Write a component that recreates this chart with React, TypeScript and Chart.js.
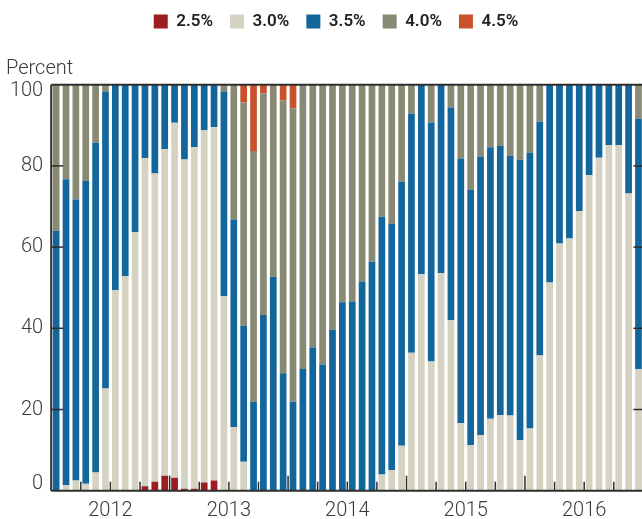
import React, { useEffect, useRef } from 'react';
import { Chart, registerables } from 'chart.js';

Chart.register(...registerables);

const years = ['2012', '2013', '2014', '2015', '2016'];
const monthNames = ['01', '02', '03', '04', '05', '06', '07', '08', '09', '10', '11', '12'];
const months = years.flatMap((y) => monthNames.map((m) => `${y}-${m}`));

const seriesNames = ['2.5%', '3.0%', '3.5%', '4.0%', '4.5%'];
const seriesColors = ['#9c1d22', '#d5d2c2', '#13669b', '#898a73', '#c9522b'];

const rate25 = [
  0, 0, 0, 0, 0, 0, 0, 0, 0, 1.1, 2.2, 3.7,
  3.2, 0.5, 0.5, 2.0, 2.5, 0, 0, 0, 0, 0, 0, 0,
  0, 0, 0, 0, 0, 0, 0, 0, 0, 0, 0, 0,
  0, 0, 0, 0, 0, 0, 0, 0, 0, 0, 0, 0,
  0, 0, 0, 0, 0, 0, 0, 0, 0, 0, 0, 0,
];
const rate30 = [
  0, 1.4, 2.5, 1.7, 4.5, 25.2, 49.4, 52.9, 63.7, 80.8, 75.9, 80.4,
  87.4, 81.1, 84.1, 86.8, 87.1, 47.9, 15.7, 7.1, 0, 0, 0, 0,
  0, 0, 0, 0, 0, 0, 0, 0, 0, 4.0, 5.1, 11.1,
  34.0, 53.4, 31.8, 53.6, 42.0, 16.6, 11.2, 13.7, 17.7, 18.6, 18.5, 12.4,
  15.3, 33.3, 51.3, 60.9, 62.1, 68.9, 77.7, 82.0, 85.1, 85.1, 73.2, 29.9,
];
const rate35 = [
  64.0, 75.3, 69.2, 74.6, 81.2, 73.1, 50.6, 47.1, 36.3, 18.1, 21.9, 15.9,
  9.4, 18.4, 15.4, 11.2, 10.4, 50.4, 51.1, 33.5, 21.9, 43.3, 52.7, 28.9,
  21.9, 30.0, 35.3, 31.1, 39.7, 46.4, 46.6, 51.5, 56.4, 63.5, 60.6, 65.0,
  58.9, 46.6, 58.9, 46.4, 52.4, 65.2, 62.9, 68.6, 66.9, 66.3, 64.0, 69.1,
  68.0, 57.6, 48.7, 39.1, 37.9, 31.1, 22.3, 18.0, 14.9, 14.9, 26.8, 61.7,
];
const rate40 = [
  36.0, 23.3, 28.3, 23.7, 14.3, 1.7, 0, 0, 0, 0, 0, 0,
  0, 0, 0, 0, 0, 1.7, 33.2, 55.1, 61.8, 54.6, 47.3, 67.3,
  72.3, 70.0, 64.7, 68.9, 60.3, 53.6, 53.4, 48.5, 43.6, 32.5, 34.3, 23.9,
  7.1, 0, 9.3, 0, 5.6, 18.2, 25.9, 17.7, 15.4, 15.1, 17.5, 18.5,
  16.7, 9.1, 0, 0, 0, 0, 0, 0, 0, 0, 0, 8.4,
];
const rate45 = [
  0, 0, 0, 0, 0, 0, 0, 0, 0, 0, 0, 0,
  0, 0, 0, 0, 0, 0, 0, 4.3, 16.3, 2.1, 0, 3.8,
  5.8, 0, 0, 0, 0, 0, 0, 0, 0, 0, 0, 0,
  0, 0, 0, 0, 0, 0, 0, 0, 0, 0, 0, 0,
  0, 0, 0, 0, 0, 0, 0, 0, 0, 0, 0, 0,
];
const seriesValues = [rate25, rate30, rate35, rate40, rate45];
const yTickValues = [0, 20, 40, 60, 80, 100];

const CANVAS_W = 660;
const CANVAS_H = 525;
const TEXT_COLOR = '#3a3a3a';
const LINE_COLOR = '#2e2e2e';

const framePlugin = {
  id: 'frame',
  afterDatasetsDraw(chart: any) {
    const { ctx, chartArea } = chart;
    const { left, right, top, bottom } = chartArea;
    const x = chart.scales.x;
    const y = chart.scales.y;
    const line = (x1: number, y1: number, x2: number, y2: number) => {
      ctx.beginPath();
      ctx.moveTo(x1, y1);
      ctx.lineTo(x2, y2);
      ctx.stroke();
    };
    ctx.save();
    ctx.strokeStyle = LINE_COLOR;
    ctx.lineWidth = 1.5;
    yTickValues.forEach((v) => {
      if (v === 0 || v === 100) return;
      const py = y.getPixelForValue(v);
      line(left, py, left + 12, py);
      line(right - 10, py, right, py);
    });
    for (let i = 3; i < months.length; i += 3) {
      const px = (x.getPixelForValue(i - 1) + x.getPixelForValue(i)) / 2;
      const len = i % 12 === 0 ? 15 : 9;
      line(px, bottom, px, bottom - len);
    }
    ctx.lineWidth = 2;
    line(left, top, right, top);
    line(left, top, left, bottom);
    line(left, bottom, right, bottom);

    ctx.fillStyle = TEXT_COLOR;
    ctx.font = '300 20px Roboto';
    ctx.textAlign = 'right';
    ctx.textBaseline = 'middle';
    yTickValues.forEach((v) => {
      let py = y.getPixelForValue(v);
      py = Math.min(Math.max(py, top + 6.5), bottom - 7);
      ctx.fillText(String(v), left - 8, py);
    });
    ctx.restore();
  },
};

export default function App() {
  const canvasRef = useRef<HTMLCanvasElement | null>(null);

  useEffect(() => {
    if (!canvasRef.current) return;
    const chart = new Chart(canvasRef.current, {
      type: 'bar',
      data: {
        labels: months,
        datasets: seriesNames.map((name, i) => ({
          label: name,
          data: seriesValues[i],
          backgroundColor: seriesColors[i],
          borderWidth: 0,
          barPercentage: 0.68,
          categoryPercentage: 1,
        })),
      },
      options: {
        responsive: false,
        animation: false,
        layout: { padding: 0 },
        plugins: {
          legend: {
            position: 'top',
            labels: {
              boxWidth: 14,
              boxHeight: 14,
              padding: 17,
              color: '#222',
              font: { family: 'Roboto', size: 17, weight: '600' },
            },
          },
          title: {
            display: true,
            text: 'Percent',
            align: 'start',
            position: 'top',
            weight: 500,
            color: TEXT_COLOR,
            font: { family: 'Roboto', size: 20, weight: '300' },
            padding: { top: 16.5, bottom: 4.2 },
          },
          tooltip: { enabled: false },
        },
        scales: {
          x: {
            stacked: true,
            grid: { display: false, drawTicks: false },
            border: { display: false },
            ticks: {
              autoSkip: false,
              maxRotation: 0,
              minRotation: 0,
              labelOffset: 4.935,
              padding: 8,
              color: TEXT_COLOR,
              font: { family: 'Roboto', size: 20, weight: '300' },
              callback: (_v: any, i: number) => (i % 12 === 5 ? months[i].slice(0, 4) : ''),
            },
            afterFit: (s: any) => {
              s.height = CANVAS_H - 494.7;
            },
          },
          y: {
            stacked: true,
            min: 0,
            max: 100,
            position: 'left',
            grid: { display: false, drawTicks: false },
            border: { display: false },
            ticks: { display: false },
            afterFit: (s: any) => {
              s.width = 45.2;
            },
          },
          y2: {
            position: 'right',
            grid: { display: false, drawTicks: false },
            border: { display: false },
            ticks: { display: false },
            afterFit: (s: any) => {
              s.width = 22.6;
            },
          },
        },
      } as any,
      plugins: [framePlugin],
    });
    return () => chart.destroy();
  }, []);

  return (
    <div style={{ position: 'fixed', left: 0, top: 0, width: 642, height: 519, overflow: 'hidden', background: '#fff' }}>
      <canvas
        ref={canvasRef}
        width={CANVAS_W}
        height={CANVAS_H}
        style={{ position: 'absolute', left: 6, top: -4, width: CANVAS_W, height: CANVAS_H }}
      />
    </div>
  );
}
